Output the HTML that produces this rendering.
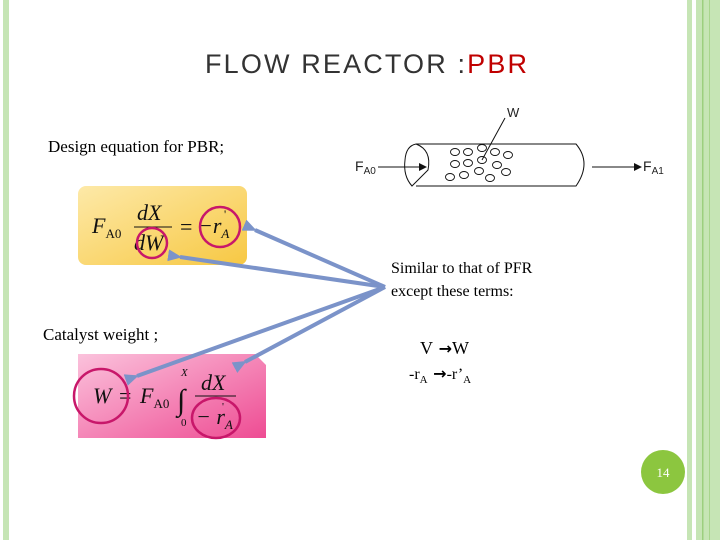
<!DOCTYPE html>
<html><head><style>
html,body{margin:0;padding:0;background:#fff;}
svg{display:block;}
</style></head><body>
<svg width="720" height="540" xmlns="http://www.w3.org/2000/svg" font-family="Liberation Serif, serif">
<defs>
<linearGradient id="yg" x1="0" y1="0" x2="1" y2="1">
<stop offset="0" stop-color="#fde9a8"/><stop offset="1" stop-color="#f7c843"/></linearGradient>
<linearGradient id="pg" x1="0" y1="0" x2="1" y2="1">
<stop offset="0" stop-color="#fbc2dc"/><stop offset="1" stop-color="#ee4c93"/></linearGradient>
<marker id="ah" markerWidth="8" markerHeight="8" refX="6" refY="4" orient="auto" markerUnits="userSpaceOnUse">
<path d="M0,0 L8,4 L0,8 z" fill="#111"/></marker>
<marker id="bh" markerWidth="14" markerHeight="12" refX="2" refY="6" orient="auto" markerUnits="userSpaceOnUse">
<path d="M14,0 L0,6 L14,12 z" fill="#7b93c9"/></marker>
</defs>
<rect x="3" y="0" width="6" height="540" fill="#c6e5b5"/>
<rect x="687" y="0" width="5" height="540" fill="#c6e5b5"/>
<rect x="696" y="0" width="24" height="540" fill="#c6e5b5"/>
<rect x="702" y="0" width="1.5" height="540" fill="#9ccf7e"/>
<rect x="709" y="0" width="1" height="540" fill="#a8d58d"/>
<text x="205" y="73" font-family="Liberation Sans, sans-serif" font-size="27" fill="#333" textLength="322" lengthAdjust="spacing">FLOW REACTOR :<tspan fill="#c00000">PBR</tspan></text>
<text x="48" y="152" font-size="17">Design equation for PBR;</text>
<text x="43" y="340" font-size="17">Catalyst weight ;</text>
<g stroke="#111" fill="none" stroke-width="1">
<path d="M416,144 L576,144 Q592,163 576,186 L416,186"/>
<path d="M416,144 Q406,146 405,160 Q403,176 412,186 Q420,178 428,170 Q432,150 416,144"/>
<line x1="378" y1="167" x2="425" y2="167" marker-end="url(#ah)"/>
<line x1="592" y1="167" x2="640" y2="167" marker-end="url(#ah)"/>
<line x1="482" y1="160" x2="505" y2="118"/>
<g stroke-width="0.9">
<ellipse cx="455" cy="152" rx="4.5" ry="3.5"/><ellipse cx="468" cy="152" rx="4.5" ry="3.5"/><ellipse cx="482" cy="148" rx="4.5" ry="3.5"/>
<ellipse cx="495" cy="152" rx="4.5" ry="3.5"/><ellipse cx="508" cy="155" rx="4.5" ry="3.5"/>
<ellipse cx="455" cy="164" rx="4.5" ry="3.5"/><ellipse cx="468" cy="163" rx="4.5" ry="3.5"/><ellipse cx="482" cy="160" rx="4.5" ry="3.5"/>
<ellipse cx="497" cy="165" rx="4.5" ry="3.5"/>
<ellipse cx="450" cy="177" rx="4.5" ry="3.5"/><ellipse cx="464" cy="175" rx="4.5" ry="3.5"/><ellipse cx="479" cy="171" rx="4.5" ry="3.5"/>
<ellipse cx="490" cy="178" rx="4.5" ry="3.5"/><ellipse cx="506" cy="172" rx="4.5" ry="3.5"/>
</g></g>
<text x="507" y="117" font-family="Liberation Sans, sans-serif" font-size="13" fill="#222">W</text>
<text x="355" y="171" font-family="Liberation Sans, sans-serif" font-size="14" fill="#222">F<tspan font-size="10" dy="3">A0</tspan></text>
<text x="643" y="171" font-family="Liberation Sans, sans-serif" font-size="14" fill="#222">F<tspan font-size="10" dy="3">A1</tspan></text>
<rect x="78" y="186" width="169" height="79" rx="8" fill="url(#yg)"/>
<g font-style="italic" font-size="22" fill="#111">
<text x="92" y="233">F<tspan font-size="13" dy="5" font-style="normal">A0</tspan></text>
<text x="137" y="220">dX</text>
<line x1="134" y1="227" x2="172" y2="227" stroke="#111"/>
<text x="134" y="250">dW</text>
<text x="180" y="234" font-style="normal">=</text>
<text x="198" y="233">−r<tspan font-size="13" dy="5">A</tspan></text>
<text x="224" y="218" font-size="12" font-style="normal">'</text>
</g>
<circle cx="152" cy="243" r="15" fill="none" stroke="#c8176a" stroke-width="2.5"/>
<ellipse cx="220" cy="227" rx="20" ry="20" fill="none" stroke="#c8176a" stroke-width="2.5"/>
<path d="M78,354 L255,354 L266,365 L266,438 L78,438 z" fill="url(#pg)"/>
<g font-style="italic" font-size="22" fill="#111">
<text x="93" y="403">W</text>
<text x="119" y="403" font-style="normal">=</text>
<text x="140" y="403">F<tspan font-size="13" dy="5" font-style="normal">A0</tspan></text>
<text x="177" y="410" font-size="30" font-style="normal">∫</text>
<text x="181" y="376" font-size="11">X</text>
<text x="181" y="426" font-size="11" font-style="normal">0</text>
<text x="201" y="390">dX</text>
<line x1="195" y1="396" x2="236" y2="396" stroke="#111"/>
<text x="196" y="424">− r<tspan font-size="13" dy="5">A</tspan></text>
<text x="222" y="410" font-size="11" font-style="normal">'</text>
</g>
<circle cx="101" cy="396" r="27" fill="none" stroke="#c8176a" stroke-width="2.5"/>
<ellipse cx="216" cy="418" rx="24" ry="20" fill="none" stroke="#c8176a" stroke-width="2.5"/>
<g stroke="#7b93c9" stroke-width="4" fill="none">
<line x1="385" y1="287" x2="255" y2="230" marker-end="url(#bh)"/>
<line x1="385" y1="287" x2="180" y2="257" marker-end="url(#bh)"/>
<line x1="385" y1="287" x2="137" y2="376" marker-end="url(#bh)"/>
<line x1="385" y1="287" x2="245" y2="362" marker-end="url(#bh)"/>
</g>
<text x="391" y="273" font-size="16">Similar to that of PFR</text>
<text x="391" y="296" font-size="16">except these terms:</text>
<text x="420" y="354" font-size="18">V<tspan font-family="DejaVu Sans, sans-serif" font-size="16" font-weight="bold"> →</tspan>W</text>
<text x="409" y="379" font-size="16">-r<tspan font-size="11" dy="4">A</tspan><tspan dy="-4" font-family="DejaVu Sans, sans-serif" font-weight="bold"> →</tspan>-r’<tspan font-size="11" dy="4">A</tspan></text>
<circle cx="663" cy="472" r="22" fill="#8cc63f"/>
<text x="663" y="477" font-size="13" fill="#fff" text-anchor="middle">14</text>
</svg>
</body></html>
